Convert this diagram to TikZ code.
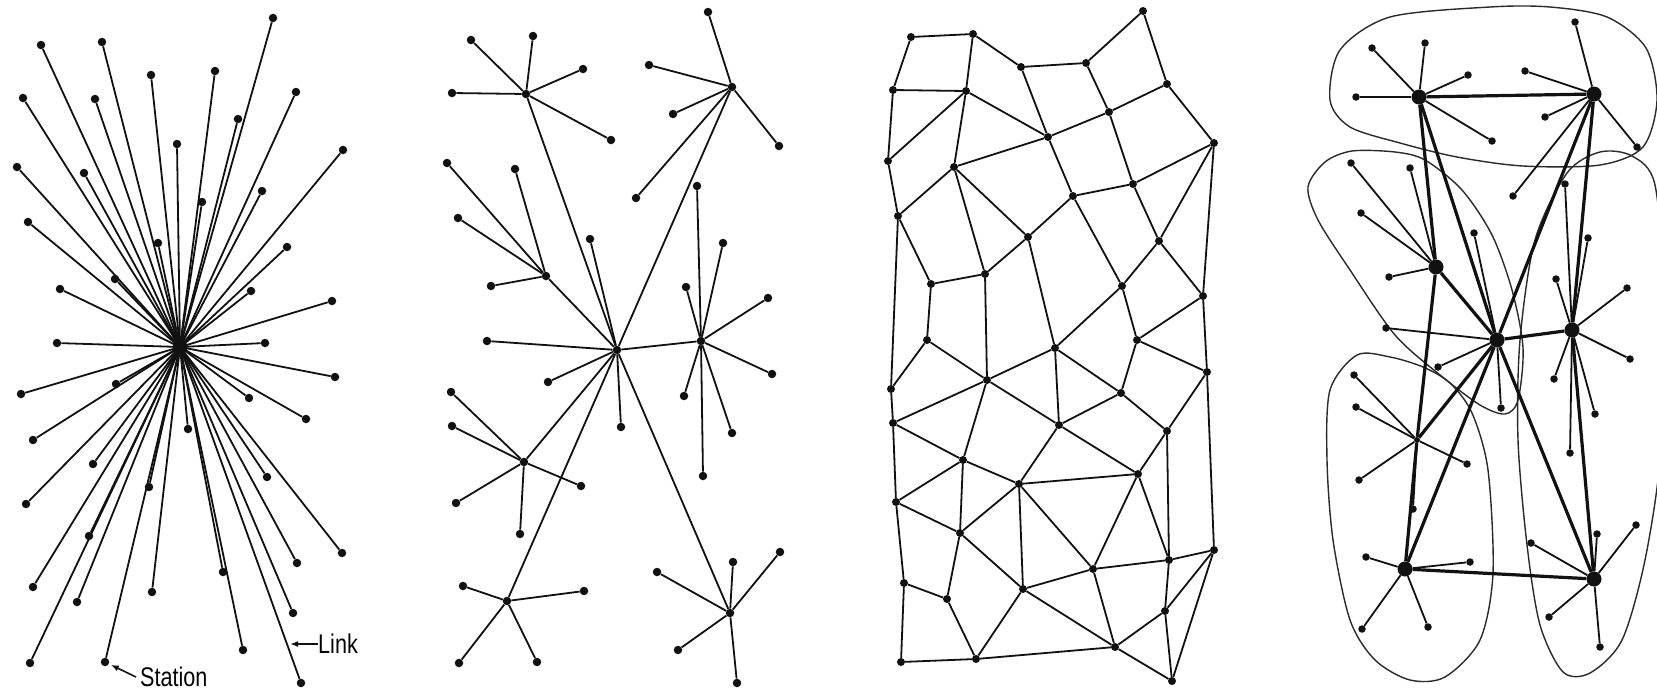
\documentclass[tikz,border=0pt]{standalone}
\usepackage{fontspec}
\setmainfont{Liberation Sans}
\usepackage{xcolor}
\definecolor{cInk}{HTML}{111111}
\definecolor{cRim}{HTML}{2A2A2A}
\usetikzlibrary{arrows.meta}
\tikzset{
  node-station/.style={circle,fill=cInk,inner sep=0pt,minimum size=8.5pt},
  node-hub/.style={circle,fill=cInk,inner sep=0pt,minimum size=15pt},
  node-knot/.style={circle,fill=cInk,inner sep=0pt,minimum size=6pt},
  link/.style={draw=cInk,line width=1.8pt},
  link-trunk/.style={draw=cInk,line width=3.2pt},
  region/.style={draw=cRim,line width=1.4pt},
  arrow/.style={-{Latex[length=8pt,width=6pt]},draw=cInk,line width=1.6pt},
  label-text/.style={font=\fontsize{27}{30}\selectfont,inner sep=0pt},
}

\begin{document}
\begin{tikzpicture}[x=1pt,y=-1pt]
  \useasboundingbox[fill=white] (0,0) rectangle (1657,689);
  \clip (0,0) rectangle (1657,689);

  % centralized
  \node[node-station,minimum size=15pt] (c-hub) at (180,347) {};
  \foreach \x/\y [count=\i] in {41/45,102/42,273/18,151/75,215/71,23/98,95/99,
      296/92,238/119,177/144,343/150,17/167,84/173,262/191,202/202,28/222,
      158/243,287/247,60/289,115/279,251/291,332/301,57/343,265/343,335/377,
      21/394,116/384,249/398,306/419,188/429,33/440,93/464,267/477,26/504,
      149/487,89/536,342/553,297/563,223/572,33/587,152/592,77/602,293/613,
      243/650,30/663,105/662,301/683} {
    \node[node-station] (c\i) at (\x,\y) {};
    \draw[link] (c-hub.center) -- (c\i);
  }
  \coordinate (link-tip) at (290,644);
  \node[label-text,anchor=west] (link-label) at (318,644) {\scalebox{0.8}[1]{Link}};
  \draw[arrow] (link-label.west) -- (link-tip);
  \node[label-text,anchor=west] (station-label) at (140,677) {\scalebox{0.8}[1]{Station}};
  \draw[arrow,shorten >=2pt] ([xshift=-4pt]station-label.west) -- (c46);

  % decentralized
  \foreach \n/\x/\y in {dA/526/94,dB/732/87,dC/546/276,dD/617/350,
      dE/701/341,dF/524/462,dG/507/601,dH/730/613}
    \node[node-station] (\n) at (\x,\y) {};
  \foreach \a/\b in {dA/dD,dB/dD,dC/dD,dD/dE,dD/dF,dD/dG,dD/dH}
    \draw[link] (\a) -- (\b);
  \foreach \h/\x/\y [count=\i] in {dA/471/40,dA/533/36,dA/583/69,dA/452/93,
      dA/611/140,dB/708/12,dB/649/65,dB/673/114,dB/779/146,dB/636/198,
      dC/447/163,dC/515/169,dC/458/218,dC/491/286,dD/487/341,dD/590/239,
      dD/548/382,dD/621/427,dE/697/186,dE/723/243,dE/686/287,dE/768/298,
      dE/772/374,dE/684/396,dE/732/433,dE/703/476,dF/451/392,dF/452/426,
      dF/456/503,dF/520/534,dF/581/486,dG/463/586,dG/584/591,dG/459/663,
      dG/537/662,dH/657/572,dH/733/562,dH/780/552,dH/678/650,dH/737/683} {
    \node[node-station] (d\i) at (\x,\y) {};
    \draw[link] (\h) -- (d\i);
  }

  % distributed
  \foreach \x/\y [count=\i] in {911/37,973/34,1021/67,1086/63,1143/11,1167/84,
      893/90,966/91,1109/112,1048/137,1214/143,888/161,954/167,1133/184,
      1073/196,898/216,1028/237,1159/241,985/274,931/284,1122/286,1203/296,
      927/340,1055/348,1137/340,1207/372,891/389,987/380,1121/393,893/423,
      1059/425,1167/431,963/460,1019/484,1138/474,896/502,960/533,1093/569,
      1169/560,1214/550,904/583,947/599,1023/589,1165/611,1115/647,901/662,
      976/659,1172/681}
    \node[node-station,minimum size=8pt] (m\i) at (\x,\y) {};
  \foreach \a/\b in {1/2,1/7,2/3,2/8,3/4,3/10,4/5,4/9,5/6,6/9,6/11,7/8,7/12,
      8/12,8/13,8/10,9/10,9/14,10/13,10/15,11/14,11/18,11/22,12/16,13/16,
      13/19,13/17,14/15,14/18,15/17,15/21,16/20,16/27,17/19,17/24,18/21,
      18/22,19/20,19/28,20/23,21/24,21/25,22/25,22/26,23/27,23/28,24/28,
      24/31,24/29,25/29,25/26,26/32,26/40,27/30,28/30,28/31,28/33,29/31,
      29/32,30/33,30/36,31/34,31/35,32/35,32/39,33/34,33/36,33/37,34/35,
      34/37,34/38,34/43,35/38,35/39,36/37,36/41,37/42,37/43,38/39,38/43,
      38/45,39/40,39/44,40/44,40/48,41/42,41/46,42/47,43/45,43/47,44/45,
      44/48,45/47,45/48,46/47}
    \draw[link] (m\a) -- (m\b);

  % hierarchical with regions
  \draw[region] plot[smooth cycle] coordinates {(1490,7) (1550,7) (1607,17)
      (1646,48) (1657,100) (1643,147) (1600,165) (1523,166) (1457,157)
      (1400,143) (1350,127) (1330,100) (1340,50) (1390,17)};
  \draw[region] plot[smooth cycle] coordinates {(1308,187) (1325,162)
      (1352,151) (1395,152) (1425,160) (1462,190) (1492,235) (1512,290)
      (1523,348) (1518,400) (1505,414) (1480,405) (1440,375) (1395,335)
      (1350,270) (1318,220)};
  \draw[region] plot[smooth cycle] coordinates {(1535,240) (1567,173)
      (1600,152) (1632,156) (1655,185) (1664,300) (1661,450) (1645,560)
      (1622,640) (1590,673) (1563,672) (1540,625) (1527,545) (1518,440)
      (1520,340)};
  \draw[region] plot[smooth cycle] coordinates {(1357,355) (1390,357)
      (1423,367) (1450,383) (1472,413) (1488,470) (1493,573) (1480,640)
      (1445,677) (1410,680) (1375,660) (1350,620) (1333,540) (1327,460)
      (1330,390)};

  \foreach \n/\x/\y in {hP/1419/97,hQ/1594/94,hR/1436/267,hS/1497/340,
      hT/1572/330,hU/1405/569,hV/1594/579}
    \node[node-hub] (\n) at (\x,\y) {};
  \node[node-knot] (hW) at (1417,440) {};
  \foreach \a/\b in {hP/hQ,hP/hR,hP/hS,hQ/hS,hQ/hT,hR/hS,hR/hW,hW/hU,hS/hW,
      hS/hU,hS/hT,hS/hV,hT/hV,hU/hV}
    \draw[link-trunk] (\a) -- (\b);
  \foreach \h/\x/\y [count=\i] in {hP/1372/48,hP/1425/43,hP/1468/75,
      hP/1356/97,hP/1492/141,hQ/1575/22,hQ/1525/71,hQ/1545/117,hQ/1637/147,
      hQ/1513/196,hR/1351/163,hR/1410/168,hR/1361/213,hR/1389/277,
      hS/1474/233,hS/1386/328,hS/1438/367,hS/1501/408,hT/1565/184,
      hT/1588/238,hT/1556/279,hT/1627/288,hT/1630/359,hT/1554/379,
      hT/1595/414,hT/1570/453,hW/1354/375,hW/1356/407,hW/1359/480,
      hW/1467/464,hW/1413/509,hU/1366/557,hU/1470/562,hU/1362/629,
      hU/1428/627,hV/1531/543,hV/1597/534,hV/1636/525,hV/1549/617,
      hV/1600/647} {
    \node[node-station,minimum size=7.5pt] (h\i) at (\x,\y) {};
    \draw[link] (\h) -- (h\i);
  }
\end{tikzpicture}
\end{document}
